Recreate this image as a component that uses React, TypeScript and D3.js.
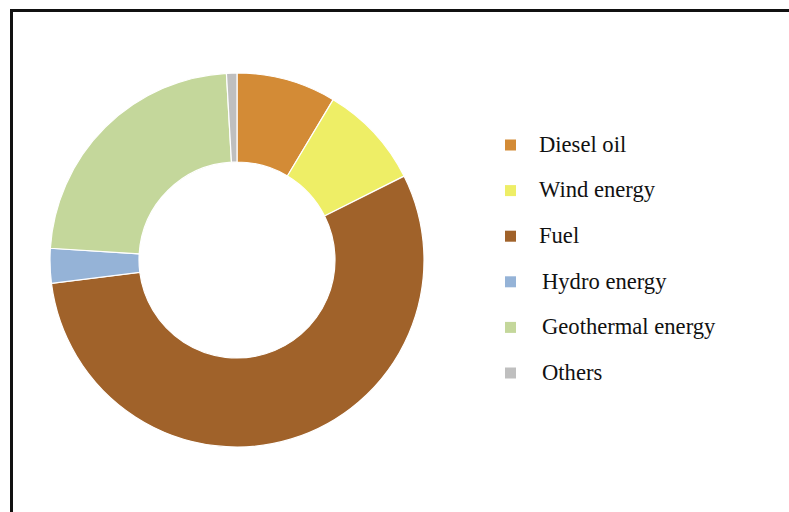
import React from "react";
import * as d3 from "d3";

const categories = ["Diesel oil", "Wind energy", "Fuel", "Hydro energy", "Geothermal energy", "Others"];
const values = [8.6, 9.0, 55.4, 3.0, 23.1, 0.9];
const colors = ["#D38B36", "#EEEE66", "#A0622A", "#95B3D7", "#C4D79B", "#BFBFBF"];

export default function App() {
  const W = 789, H = 512;
  const cx = 237, cy = 260;
  const pie = d3.pie<number>().sort(null).value((d) => d)(values);
  const arc = d3.arc<d3.PieArcDatum<number>>().innerRadius(98).outerRadius(187);
  const legendY = d3.scalePoint<string>().domain(categories).range([145, 373]);
  return (
    <svg width={W} height={H} style={{ position: "absolute", left: 0, top: 0, display: "block", background: "#fff" }}>
      <rect x={11.5} y={10.5} width={W + 20} height={H + 20} fill="#fff" stroke="#111" strokeWidth={3} />
      <g transform={`translate(${cx},${cy})`}>
        {pie.map((p, i) => (
          <path key={i} d={arc(p) || ""} fill={colors[i]} stroke="#fff" strokeWidth={1.2} />
        ))}
      </g>
      {categories.map((c, i) => (
        <g key={c}>
          <rect x={505} y={legendY(c)! - 5.5} width={11} height={11} fill={colors[i]} />
          <text x={i < 3 ? 539 : 542} y={legendY(c)!} dy="0.3em" fontFamily="'Liberation Serif', 'Times New Roman', serif" fontSize={22.6} fill="#111">
            {c}
          </text>
        </g>
      ))}
    </svg>
  );
}
